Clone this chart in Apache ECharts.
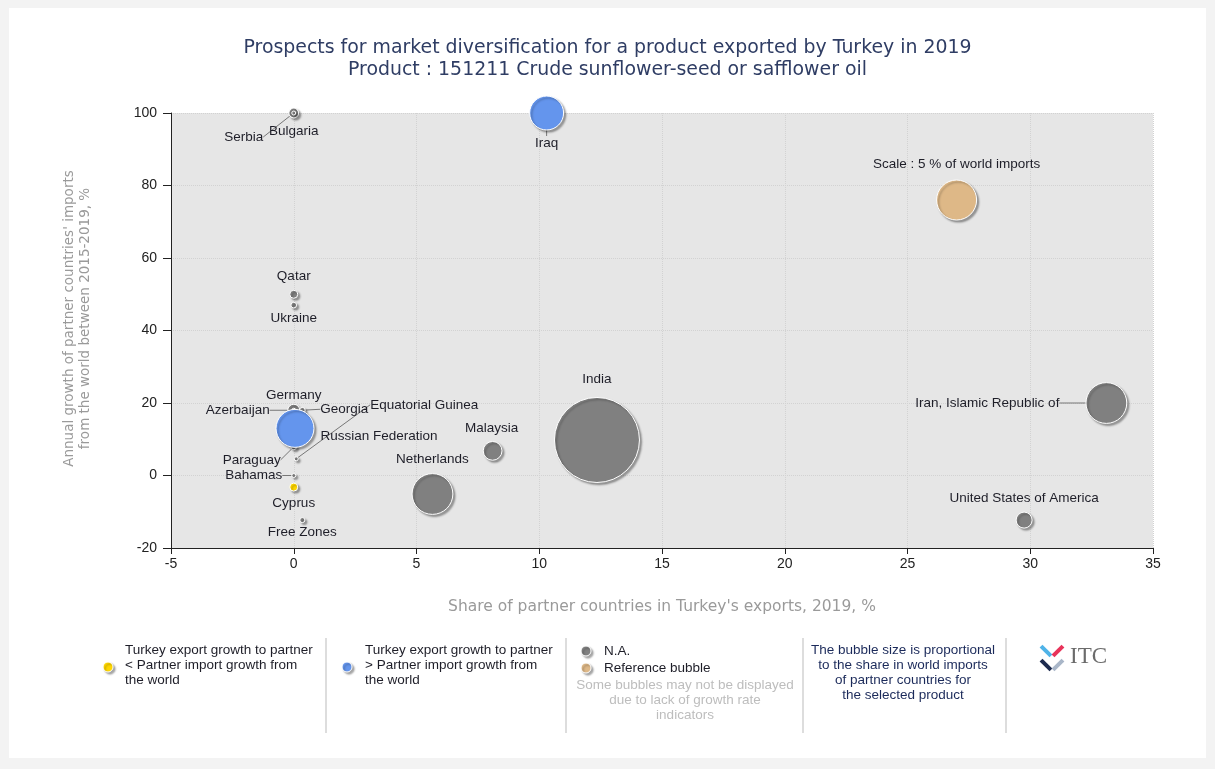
<!DOCTYPE html>
<html lang="en">
<head>
  <meta charset="UTF-8">
  <title>Prospects for market diversification - Turkey 151211</title>
  <script src="https://cdn.jsdelivr.net/npm/echarts@6/dist/echarts.min.js"></script>
  <style>
    body { margin: 0; background: #f3f3f3; }
    #panel { position: absolute; left: 9px; top: 8px; width: 1197px; height: 750px; background: #fff; }
    #main { position: absolute; left: 0; top: 0; width: 1215px; height: 769px; }
  </style>
</head>
<body>
  <div id="panel"></div>
  <div id="main"></div>
  <script>
    // partner countries (share of Turkey's exports %, import growth %, share in world imports %)
    var countries = ['Bulgaria', 'Serbia', 'Iraq', 'Qatar', 'Ukraine', 'Germany', 'Azerbaijan', 'Georgia',
      'Russian Federation', 'Equatorial Guinea', 'Paraguay', 'Bahamas', 'Cyprus', 'Free Zones',
      'Malaysia', 'Netherlands', 'India', 'Iran, Islamic Republic of', 'United States of America'];
    var shareTurkeyExports = [0.0, 0.0, 10.3, 0.0, 0.0, 0.0, 0.0, 0.35, 0.05, 0.1, 0.0, 0.0, 0.0, 0.35, 8.1, 5.65, 12.35, 33.1, 29.75];
    var importGrowth = [100, 100, 100, 50, 47, 18, 18, 18, 13, 4.6, 7.9, 0, -3.2, -12.3, 6.8, -5.1, 9.8, 20, -12.3];
    var worldImportShare = [0.3, 0.05, 3.6, 0.2, 0.1, 0.45, 0.05, 0.1, 4.5, 0.05, 0.1, 0.05, 0.2, 0.08, 1.1, 5.2, 22.6, 5.2, 0.8];
    // lower = yellow, higher = blue, na = grey
    var growthGroup = ['na', 'na', 'higher', 'na', 'na', 'na', 'na', 'na', 'higher', 'na', 'na', 'na', 'lower', 'na',
      'na', 'na', 'na', 'na', 'na'];
    var referenceBubble = [27, 76, 5];

    // label placement (offset from bubble centre, px) and which labels get a leader line
    var labelOffset = {
      'Bulgaria': [0, 18], 'Serbia': [-50, 24], 'Iraq': [0, 30], 'Qatar': [0, -18], 'Ukraine': [0, 13],
      'Germany': [0, -15], 'Azerbaijan': [-56, 0], 'Georgia': [42, -1], 'Russian Federation': [84, 8],
      'Equatorial Guinea': [128, -54], 'Paraguay': [-42, 13], 'Bahamas': [-40, 0], 'Cyprus': [0, 16],
      'Free Zones': [0, 12], 'Malaysia': [-1, -23], 'Netherlands': [0, -35], 'India': [0, -61],
      'Iran, Islamic Republic of': [-119, 0], 'United States of America': [0, -22],
      'Scale : 5 % of world imports': [0, -36]
    };
    var withLine = ['Serbia', 'Iraq', 'Azerbaijan', 'Georgia', 'Equatorial Guinea', 'Paraguay', 'Bahamas', 'Iran, Islamic Republic of'];

    var colors = { lower: '#ffd700', higher: '#6495ed', na: '#808080', ref: '#deb887' };
    var labelFont = 'Liberation Sans';

    function bubbleSize(val) {
      return 40 * Math.sqrt(val[2] / 5);
    }

    function groupData(g) {
      var out = [];
      countries.forEach(function (name, i) {
        if (growthGroup[i] !== g) return;
        out.push({
          name: name,
          value: [shareTurkeyExports[i], importGrowth[i], worldImportShare[i]],
          labelLine: { show: withLine.indexOf(name) >= 0 }
        });
      });
      return out;
    }

    function bubbleSeries(name, data, color) {
      return {
        name: name,
        type: 'scatter',
        data: data,
        symbolSize: bubbleSize,
        itemStyle: {
          color: color,
          opacity: 1,
          borderColor: '#fff',
          borderWidth: 1,
          shadowColor: 'rgba(0,0,0,0.35)',
          shadowBlur: 2,
          shadowOffsetX: 2,
          shadowOffsetY: 2
        },
        label: {
          show: true,
          position: 'inside',
          formatter: '{b}',
          color: '#1e1e28',
          fontSize: 13.5,
          fontFamily: labelFont
        },
        labelLine: { show: false, lineStyle: { color: '#777', width: 1 } },
        labelLayout: function (params) {
          var o = labelOffset[params.text] || [0, 0];
          return { dx: o[0], dy: o[1] };
        },
        emphasis: { disabled: true },
        animation: false
      };
    }

    var myChart = echarts.init(document.getElementById('main'));

    var legendText = { fontSize: 13.5, fontFamily: labelFont, fill: '#1e1e28', lineHeight: 15 };

    function dot(x, y, color) {
      return {
        type: 'circle', shape: { cx: x, cy: y, r: 5 },
        style: { fill: color, stroke: '#fff', lineWidth: 1, shadowColor: 'rgba(0,0,0,0.35)', shadowBlur: 2, shadowOffsetX: 2, shadowOffsetY: 2 }
      };
    }
    function sep(x) {
      return { type: 'line', shape: { x1: x, y1: 638, x2: x, y2: 733 }, style: { stroke: '#bbb', lineWidth: 1 } };
    }
    function bar(cx, cy, rot, color) {
      return { type: 'rect', x: cx, y: cy, rotation: rot, shape: { x: -7, y: -2, width: 14, height: 4 }, style: { fill: color } };
    }

    var option = {
      title: {
        text: 'Prospects for market diversification for a product exported by Turkey in 2019\nProduct : 151211 Crude sunflower-seed or safflower oil',
        left: 'center',
        top: 32,
        textStyle: { fontSize: 18.9, fontWeight: 'normal', fontFamily: 'DejaVu Sans', color: '#2f3d64', lineHeight: 22 }
      },
      grid: {
        left: 171, right: 62, top: 113, bottom: 221,
        show: true, backgroundColor: '#e6e6e6', borderWidth: 0
      },
      xAxis: {
        type: 'value', min: -5, max: 35, interval: 5,
        name: "Share of partner countries in Turkey's exports, 2019, %",
        nameLocation: 'middle', nameGap: 51,
        nameTextStyle: { color: '#9a9a9a', fontSize: 15.5, fontFamily: 'DejaVu Sans' },
        axisLine: { onZero: false, lineStyle: { color: '#222' } },
        axisTick: { length: 6, lineStyle: { color: '#222' } },
        axisLabel: { color: '#222', fontSize: 14, fontFamily: labelFont, margin: 9 },
        splitLine: { lineStyle: { color: '#d2d2d2', type: 'dotted' } }
      },
      yAxis: {
        type: 'value', min: -20, max: 100, interval: 20,
        name: "Annual growth of partner countries' imports\nfrom the world between 2015-2019, %",
        nameLocation: 'middle', nameGap: 78,
        nameTextStyle: { color: '#9a9a9a', fontSize: 13.5, fontFamily: 'DejaVu Sans', lineHeight: 16, padding: [0, 0, 0, 24] },
        axisLine: { show: true, onZero: false, lineStyle: { color: '#222' } },
        axisTick: { show: true, length: 8, lineStyle: { color: '#222' } },
        axisLabel: { color: '#222', fontSize: 14, fontFamily: labelFont, margin: 14 },
        splitLine: { lineStyle: { color: '#d2d2d2', type: 'dotted' } }
      },
      series: [
        bubbleSeries('N.A.', groupData('na'), colors.na),
        bubbleSeries('higher', groupData('higher'), colors.higher),
        bubbleSeries('lower', groupData('lower'), colors.lower),
        bubbleSeries('Reference bubble', [{ name: 'Scale : 5 % of world imports', value: referenceBubble }], colors.ref)
      ],
      graphic: [
        sep(326), sep(566), sep(803), sep(1006),
        dot(108, 667, colors.lower),
        { type: 'text', x: 125, y: 643, style: Object.assign({ text: 'Turkey export growth to partner\n< Partner import growth from\nthe world' }, legendText) },
        dot(347, 667, colors.higher),
        { type: 'text', x: 365, y: 643, style: Object.assign({ text: 'Turkey export growth to partner\n> Partner import growth from\nthe world' }, legendText) },
        dot(586, 651, colors.na),
        { type: 'text', x: 604, y: 644, style: Object.assign({ text: 'N.A.' }, legendText) },
        dot(586, 668, colors.ref),
        { type: 'text', x: 604, y: 661, style: Object.assign({ text: 'Reference bubble' }, legendText) },
        { type: 'text', x: 685, y: 678, style: Object.assign({}, legendText, { text: 'Some bubbles may not be displayed\ndue to lack of growth rate\nindicators', fill: '#bdbdbd', align: 'center' }) },
        { type: 'text', x: 903, y: 643, style: Object.assign({}, legendText, { text: 'The bubble size is proportional\nto the share in world imports\nof partner countries for\nthe selected product', fill: '#1b2a5a', align: 'center' }) },
        // ITC logo
        bar(1046, 651, -Math.PI / 4, '#4fb3e8'),
        bar(1058, 651, Math.PI / 4, '#e8335a'),
        bar(1046, 665, -Math.PI / 4, '#1d2b4f'),
        bar(1058, 665, Math.PI / 4, '#a9b6c8'),
        { type: 'text', x: 1070, y: 645, style: { text: 'ITC', fontSize: 23, fontFamily: 'Liberation Serif', fill: '#6b6b6b' } }
      ]
    };

    myChart.setOption(option);
  </script>
</body>
</html>
